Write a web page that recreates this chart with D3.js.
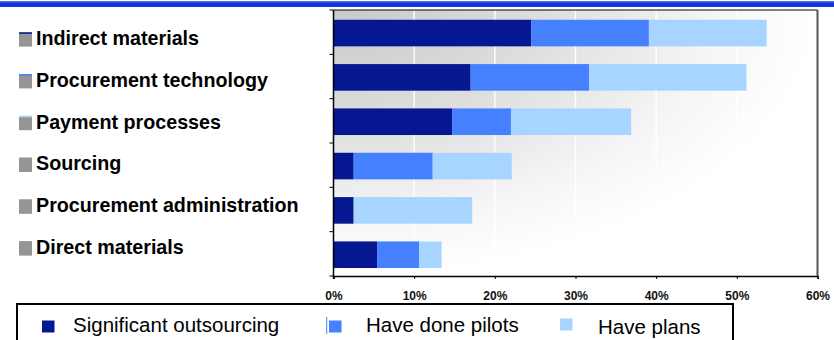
<!DOCTYPE html>
<html>
<head>
<meta charset="utf-8">
<script src="https://cdn.jsdelivr.net/npm/d3@7"></script>
<style>
  body { margin: 0; background: #fff; }
  svg { display: block; font-family: Arial, "Liberation Sans", sans-serif; }
</style>
</head>
<body>
<script>
var width  = 834;
var height = 340;

// data
var categories  = ['Indirect materials', 'Procurement technology', 'Payment processes',
                   'Sourcing', 'Procurement administration', 'Direct materials'];
var seriesNames = ['Significant outsourcing', 'Have done pilots', 'Have plans'];
var significant = [0.245, 0.170, 0.147, 0.025, 0.025, 0.054];
var pilots      = [0.146, 0.147, 0.073, 0.098, 0.000, 0.052];
var plans       = [0.146, 0.195, 0.149, 0.098, 0.147, 0.028];
var tickValues  = [0, 0.1, 0.2, 0.3, 0.4, 0.5, 0.6];
var colors      = ['#051891', '#4580ff', '#a8d5ff'];

var rows = categories.map(function(c, i){
  return { cat: c, s0: significant[i], s1: pilots[i], s2: plans[i] };
});
var stacked = d3.stack().keys(['s0', 's1', 's2'])(rows);

var plot = { left: 333.5, right: 817.5, top: 10, bottom: 276 };

var x = d3.scaleLinear().domain([0, 0.6]).range([plot.left, plot.right]);
var y = d3.scaleBand().domain(categories)
          .range([plot.top, plot.bottom])
          .paddingInner(0.4).paddingOuter(0.2).align(0.55);
var labelY = d3.scalePoint().domain(categories).range([45, 254]);

var svg = d3.select('body').append('svg')
            .attr('width', width).attr('height', height);

var defs = svg.append('defs');
var grad = defs.append('radialGradient')
               .attr('id', 'bg').attr('cx', 0).attr('cy', 0).attr('r', 1)
               .attr('fx', 0).attr('fy', 0);
grad.append('stop').attr('offset', 0).attr('stop-color', '#c9c9c9');
grad.append('stop').attr('offset', 0.45).attr('stop-color', '#dfdfdf');
grad.append('stop').attr('offset', 0.8).attr('stop-color', '#f6f6f6');
grad.append('stop').attr('offset', 1).attr('stop-color', '#ffffff');

// header band
svg.append('rect').attr('x', 0).attr('y', 1).attr('width', width).attr('height', 6)
   .attr('fill', '#1336d6');
svg.append('rect').attr('x', 0).attr('y', 1).attr('width', width).attr('height', 1.5)
   .attr('fill', '#4a6ee6');

// plot background
svg.append('rect')
   .attr('x', plot.left).attr('y', plot.top)
   .attr('width', plot.right - plot.left).attr('height', plot.bottom - plot.top)
   .attr('fill', 'url(#bg)');

// white gridlines
svg.append('g').selectAll('line')
   .data(tickValues.slice(1, -1))
   .enter().append('line')
   .attr('x1', function(d){ return x(d); }).attr('x2', function(d){ return x(d); })
   .attr('y1', plot.top).attr('y2', plot.bottom)
   .attr('stroke', '#fff').attr('stroke-width', 1.5).attr('stroke-opacity', 0.9);

// bars
svg.append('g').selectAll('g')
   .data(stacked)
   .enter().append('g')
   .attr('fill', function(d, i){ return colors[i]; })
   .selectAll('rect')
   .data(function(d){ return d; })
   .enter().append('rect')
   .attr('x', function(d){ return x(d[0]); })
   .attr('width', function(d){ return Math.max(0, x(d[1]) - x(d[0])); })
   .attr('y', function(d){ return y(d.data.cat); })
   .attr('height', y.bandwidth());

// frame: top and right
svg.append('line').attr('x1', plot.left).attr('x2', plot.right)
   .attr('y1', plot.top).attr('y2', plot.top)
   .attr('stroke', '#000').attr('stroke-width', 1);
svg.append('line').attr('x1', plot.right).attr('x2', plot.right)
   .attr('y1', plot.top).attr('y2', plot.bottom)
   .attr('stroke', '#555').attr('stroke-width', 2);

// bottom axis
var xAxis = d3.axisBottom(x).tickValues(tickValues).tickSize(3).tickFormat(d3.format('.0%'));
var gx = svg.append('g').attr('transform', 'translate(0,' + plot.bottom + ')').call(xAxis);
gx.select('.domain').attr('stroke', '#000').attr('stroke-width', 1.5);
gx.selectAll('.tick line').attr('stroke', '#000');
gx.selectAll('text')
  .attr('y', 15).attr('dy', '0.71em')
  .attr('font-family', 'Arial, "Liberation Sans", sans-serif')
  .attr('font-size', '12px').attr('font-weight', 'bold').attr('fill', '#111');

// left axis with ticks on band boundaries
var bounds = d3.range(categories.length + 1).map(function(i){
  return plot.top + i * (plot.bottom - plot.top) / categories.length;
});
svg.append('line').attr('x1', plot.left).attr('x2', plot.left)
   .attr('y1', plot.top).attr('y2', plot.bottom + 3)
   .attr('stroke', '#000').attr('stroke-width', 1.5);
svg.append('g').selectAll('line')
   .data(bounds).enter().append('line')
   .attr('x1', plot.left - 4).attr('x2', plot.left)
   .attr('y1', function(d){ return d; }).attr('y2', function(d){ return d; })
   .attr('stroke', '#000').attr('stroke-width', 1);

// category labels with gray markers
var markTop = ['#051891', '#4580ff', '#a8d5ff', '#959595', '#959595', '#959595'];
var lab = svg.append('g').selectAll('g')
   .data(categories).enter().append('g')
   .attr('transform', function(d){ return 'translate(0,' + labelY(d) + ')'; });
lab.append('rect').attr('x', 19).attr('y', -12.7).attr('width', 13).attr('height', 14.3)
   .attr('fill', '#959595');
lab.append('rect').attr('x', 19).attr('y', -12.7).attr('width', 13).attr('height', 1.5)
   .attr('fill', function(d, i){ return markTop[i]; });
lab.append('text').attr('x', 36).attr('y', 0)
   .attr('font-size', '19.7px').attr('font-weight', 'bold').attr('fill', '#000')
   .text(function(d){ return d; });

// legend
var legend = svg.append('g');
legend.append('path')
      .attr('d', 'M17,345 V304 H733 V345')
      .attr('fill', 'none').attr('stroke', '#000').attr('stroke-width', 2);
var legendX   = [42, 329, 560];
var legendTxt = [73, 366, 598];
var legendBase = [331.5, 331.5, 333.5];
legend.selectAll('rect.sw')
      .data(seriesNames).enter().append('rect')
      .attr('class', 'sw')
      .attr('x', function(d, i){ return legendX[i]; })
      .attr('y', function(d, i){ return i === 2 ? 318.5 : 320.5; })
      .attr('width', 12.5).attr('height', 12)
      .attr('fill', function(d, i){ return colors[i]; });
legend.append('line').attr('x1', 326.7).attr('x2', 326.7).attr('y1', 317).attr('y2', 334)
      .attr('stroke', colors[1]).attr('stroke-width', 1);
legend.selectAll('text')
      .data(seriesNames).enter().append('text')
      .attr('x', function(d, i){ return legendTxt[i]; })
      .attr('y', function(d, i){ return legendBase[i]; })
      .attr('font-size', '20.5px').attr('fill', '#000')
      .text(function(d){ return d; });
</script>
</body>
</html>
